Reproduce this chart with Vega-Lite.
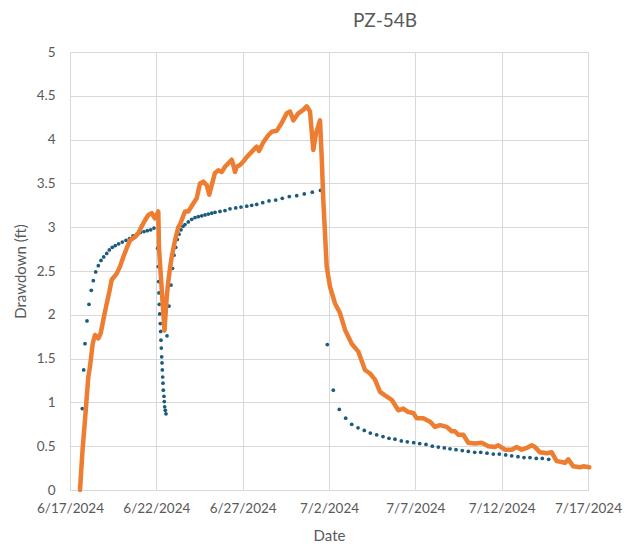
{
  "$schema": "https://vega.github.io/schema/vega-lite/v6.json",
  "width": 518,
  "height": 438,
  "autosize": {"type": "none"},
  "padding": {"left": 70, "top": 52, "right": 50, "bottom": 59},
  "background": "white",
  "title": {
    "text": "PZ-54B",
    "font": "Lato",
    "fontSize": 19,
    "fontWeight": "normal",
    "color": "#595959",
    "anchor": "middle",
    "dx": 56,
    "offset": 14
  },
  "config": {
    "view": {"stroke": null},
    "axis": {
      "labelFont": "Lato",
      "titleFont": "Lato",
      "labelColor": "#595959",
      "titleColor": "#595959",
      "labelFontSize": 13.5,
      "titleFontSize": 15,
      "titleFontWeight": "normal",
      "gridColor": "#d9d9d9",
      "gridWidth": 1,
      "ticks": false
    }
  },
  "datasets": {
    "model": [
      {"t": "2024-06-17T17:05", "v": 0.93},
      {"t": "2024-06-17T19:02", "v": 1.37},
      {"t": "2024-06-17T20:51", "v": 1.67},
      {"t": "2024-06-17T23:38", "v": 1.93},
      {"t": "2024-06-18T02:24", "v": 2.12},
      {"t": "2024-06-18T05:37", "v": 2.28},
      {"t": "2024-06-18T08:23", "v": 2.39},
      {"t": "2024-06-18T11:43", "v": 2.49},
      {"t": "2024-06-18T15:20", "v": 2.56},
      {"t": "2024-06-18T19:05", "v": 2.62},
      {"t": "2024-06-18T22:51", "v": 2.66},
      {"t": "2024-06-19T03:00", "v": 2.70},
      {"t": "2024-06-19T06:37", "v": 2.74},
      {"t": "2024-06-19T10:48", "v": 2.77},
      {"t": "2024-06-19T14:58", "v": 2.79},
      {"t": "2024-06-19T19:41", "v": 2.81},
      {"t": "2024-06-20T00:41", "v": 2.83},
      {"t": "2024-06-20T05:50", "v": 2.85},
      {"t": "2024-06-20T10:42", "v": 2.87},
      {"t": "2024-06-20T15:34", "v": 2.90},
      {"t": "2024-06-20T21:07", "v": 2.92},
      {"t": "2024-06-21T02:00", "v": 2.94},
      {"t": "2024-06-21T06:52", "v": 2.95},
      {"t": "2024-06-21T11:30", "v": 2.96},
      {"t": "2024-06-21T16:10", "v": 2.97},
      {"t": "2024-06-21T20:46", "v": 2.99},
      {"t": "2024-06-22T01:54", "v": 2.76},
      {"t": "2024-06-22T02:44", "v": 2.55},
      {"t": "2024-06-22T03:17", "v": 2.38},
      {"t": "2024-06-22T03:42", "v": 2.25},
      {"t": "2024-06-22T04:07", "v": 2.12},
      {"t": "2024-06-22T04:41", "v": 2.01},
      {"t": "2024-06-22T05:31", "v": 1.90},
      {"t": "2024-06-22T06:04", "v": 1.81},
      {"t": "2024-06-22T06:29", "v": 1.71},
      {"t": "2024-06-22T06:54", "v": 1.62},
      {"t": "2024-06-22T07:28", "v": 1.52},
      {"t": "2024-06-22T07:52", "v": 1.45},
      {"t": "2024-06-22T08:18", "v": 1.37},
      {"t": "2024-06-22T08:51", "v": 1.29},
      {"t": "2024-06-22T09:16", "v": 1.22},
      {"t": "2024-06-22T09:40", "v": 1.14},
      {"t": "2024-06-22T10:39", "v": 1.07},
      {"t": "2024-06-22T11:04", "v": 1.01},
      {"t": "2024-06-22T11:37", "v": 0.95},
      {"t": "2024-06-22T12:27", "v": 0.91},
      {"t": "2024-06-22T13:26", "v": 0.87},
      {"t": "2024-06-22T14:50", "v": 1.76},
      {"t": "2024-06-22T17:37", "v": 2.10},
      {"t": "2024-06-22T20:24", "v": 2.34},
      {"t": "2024-06-22T22:28", "v": 2.53},
      {"t": "2024-06-23T00:33", "v": 2.68},
      {"t": "2024-06-23T02:55", "v": 2.77},
      {"t": "2024-06-23T05:08", "v": 2.86},
      {"t": "2024-06-23T07:30", "v": 2.92},
      {"t": "2024-06-23T10:17", "v": 2.97},
      {"t": "2024-06-23T13:03", "v": 3.01},
      {"t": "2024-06-23T15:50", "v": 3.03},
      {"t": "2024-06-23T20:25", "v": 3.06},
      {"t": "2024-06-24T01:09", "v": 3.09},
      {"t": "2024-06-24T05:44", "v": 3.11},
      {"t": "2024-06-24T10:19", "v": 3.12},
      {"t": "2024-06-24T15:03", "v": 3.13},
      {"t": "2024-06-24T19:38", "v": 3.14},
      {"t": "2024-06-25T00:14", "v": 3.15},
      {"t": "2024-06-25T04:57", "v": 3.16},
      {"t": "2024-06-25T09:33", "v": 3.17},
      {"t": "2024-06-25T16:29", "v": 3.18},
      {"t": "2024-06-25T23:27", "v": 3.19},
      {"t": "2024-06-26T06:23", "v": 3.21},
      {"t": "2024-06-26T14:18", "v": 3.22},
      {"t": "2024-06-26T21:40", "v": 3.23},
      {"t": "2024-06-27T05:37", "v": 3.24},
      {"t": "2024-06-27T12:33", "v": 3.25},
      {"t": "2024-06-27T19:31", "v": 3.26},
      {"t": "2024-06-28T03:50", "v": 3.28},
      {"t": "2024-06-28T12:36", "v": 3.30},
      {"t": "2024-06-28T21:55", "v": 3.31},
      {"t": "2024-06-29T07:05", "v": 3.33},
      {"t": "2024-06-29T16:50", "v": 3.35},
      {"t": "2024-06-30T03:06", "v": 3.36},
      {"t": "2024-06-30T13:39", "v": 3.38},
      {"t": "2024-07-01T00:47", "v": 3.40},
      {"t": "2024-07-01T12:11", "v": 3.42},
      {"t": "2024-07-01T21:37", "v": 1.66},
      {"t": "2024-07-02T05:59", "v": 1.14},
      {"t": "2024-07-02T14:20", "v": 0.92},
      {"t": "2024-07-02T23:12", "v": 0.82},
      {"t": "2024-07-03T07:34", "v": 0.75},
      {"t": "2024-07-03T16:19", "v": 0.71},
      {"t": "2024-07-04T01:03", "v": 0.68},
      {"t": "2024-07-04T09:24", "v": 0.65},
      {"t": "2024-07-04T18:17", "v": 0.63},
      {"t": "2024-07-05T03:03", "v": 0.61},
      {"t": "2024-07-05T11:23", "v": 0.59},
      {"t": "2024-07-05T19:44", "v": 0.58},
      {"t": "2024-07-06T04:29", "v": 0.56},
      {"t": "2024-07-06T12:50", "v": 0.55},
      {"t": "2024-07-06T21:43", "v": 0.54},
      {"t": "2024-07-07T06:04", "v": 0.53},
      {"t": "2024-07-07T14:50", "v": 0.52},
      {"t": "2024-07-07T23:35", "v": 0.50},
      {"t": "2024-07-08T07:55", "v": 0.49},
      {"t": "2024-07-08T16:16", "v": 0.48},
      {"t": "2024-07-09T00:11", "v": 0.47},
      {"t": "2024-07-09T08:31", "v": 0.46},
      {"t": "2024-07-09T17:17", "v": 0.45},
      {"t": "2024-07-10T01:38", "v": 0.44},
      {"t": "2024-07-10T10:31", "v": 0.43},
      {"t": "2024-07-10T18:52", "v": 0.43},
      {"t": "2024-07-11T03:37", "v": 0.42},
      {"t": "2024-07-11T12:22", "v": 0.41},
      {"t": "2024-07-11T20:43", "v": 0.41},
      {"t": "2024-07-12T05:37", "v": 0.40},
      {"t": "2024-07-12T13:57", "v": 0.39},
      {"t": "2024-07-12T22:42", "v": 0.38},
      {"t": "2024-07-13T07:02", "v": 0.37},
      {"t": "2024-07-13T15:23", "v": 0.37},
      {"t": "2024-07-14T00:09", "v": 0.36},
      {"t": "2024-07-14T08:28", "v": 0.36},
      {"t": "2024-07-14T17:22", "v": 0.35}
    ],
    "observed": [
      {"t": "2024-06-17T13:54", "v": 0.00},
      {"t": "2024-06-17T17:22", "v": 0.45},
      {"t": "2024-06-17T20:51", "v": 0.80},
      {"t": "2024-06-18T01:26", "v": 1.29},
      {"t": "2024-06-18T03:48", "v": 1.41},
      {"t": "2024-06-18T07:33", "v": 1.67},
      {"t": "2024-06-18T10:45", "v": 1.77},
      {"t": "2024-06-18T15:20", "v": 1.73},
      {"t": "2024-06-18T18:40", "v": 1.79},
      {"t": "2024-06-18T22:17", "v": 1.94},
      {"t": "2024-06-19T02:02", "v": 2.09},
      {"t": "2024-06-19T06:37", "v": 2.26},
      {"t": "2024-06-19T09:58", "v": 2.40},
      {"t": "2024-06-19T16:55", "v": 2.47},
      {"t": "2024-06-19T21:30", "v": 2.55},
      {"t": "2024-06-20T02:05", "v": 2.66},
      {"t": "2024-06-20T06:49", "v": 2.76},
      {"t": "2024-06-20T11:24", "v": 2.85},
      {"t": "2024-06-20T18:20", "v": 2.89},
      {"t": "2024-06-20T22:56", "v": 2.93},
      {"t": "2024-06-21T03:40", "v": 3.01},
      {"t": "2024-06-21T08:15", "v": 3.08},
      {"t": "2024-06-21T12:50", "v": 3.14},
      {"t": "2024-06-21T17:34", "v": 3.16},
      {"t": "2024-06-21T22:09", "v": 3.10},
      {"t": "2024-06-22T02:44", "v": 3.18},
      {"t": "2024-06-22T03:42", "v": 2.76},
      {"t": "2024-06-22T08:18", "v": 2.19},
      {"t": "2024-06-22T11:21", "v": 1.82},
      {"t": "2024-06-22T14:24", "v": 2.20},
      {"t": "2024-06-22T16:38", "v": 2.38},
      {"t": "2024-06-22T18:59", "v": 2.53},
      {"t": "2024-06-22T21:21", "v": 2.66},
      {"t": "2024-06-23T01:56", "v": 2.85},
      {"t": "2024-06-23T06:31", "v": 3.00},
      {"t": "2024-06-23T08:54", "v": 3.03},
      {"t": "2024-06-23T15:50", "v": 3.18},
      {"t": "2024-06-23T20:25", "v": 3.18},
      {"t": "2024-06-24T03:22", "v": 3.27},
      {"t": "2024-06-24T08:06", "v": 3.33},
      {"t": "2024-06-24T12:41", "v": 3.50},
      {"t": "2024-06-24T17:17", "v": 3.52},
      {"t": "2024-06-24T22:00", "v": 3.48},
      {"t": "2024-06-25T01:36", "v": 3.37},
      {"t": "2024-06-25T04:57", "v": 3.48},
      {"t": "2024-06-25T09:33", "v": 3.62},
      {"t": "2024-06-25T14:08", "v": 3.65},
      {"t": "2024-06-25T18:52", "v": 3.63},
      {"t": "2024-06-25T23:27", "v": 3.69},
      {"t": "2024-06-26T04:02", "v": 3.73},
      {"t": "2024-06-26T08:46", "v": 3.77},
      {"t": "2024-06-26T11:00", "v": 3.71},
      {"t": "2024-06-26T13:21", "v": 3.63},
      {"t": "2024-06-26T15:42", "v": 3.69},
      {"t": "2024-06-26T20:18", "v": 3.71},
      {"t": "2024-06-27T00:53", "v": 3.75},
      {"t": "2024-06-27T05:37", "v": 3.80},
      {"t": "2024-06-27T10:12", "v": 3.84},
      {"t": "2024-06-27T14:47", "v": 3.88},
      {"t": "2024-06-27T19:31", "v": 3.92},
      {"t": "2024-06-27T22:42", "v": 3.87},
      {"t": "2024-06-28T04:41", "v": 3.97},
      {"t": "2024-06-28T11:38", "v": 4.05},
      {"t": "2024-06-28T16:21", "v": 4.09},
      {"t": "2024-06-28T23:18", "v": 4.10},
      {"t": "2024-06-29T06:14", "v": 4.19},
      {"t": "2024-06-29T13:12", "v": 4.30},
      {"t": "2024-06-29T17:47", "v": 4.32},
      {"t": "2024-06-29T22:22", "v": 4.22},
      {"t": "2024-06-30T05:19", "v": 4.30},
      {"t": "2024-06-30T12:16", "v": 4.34},
      {"t": "2024-06-30T16:59", "v": 4.38},
      {"t": "2024-06-30T21:36", "v": 4.32},
      {"t": "2024-07-01T02:11", "v": 3.88},
      {"t": "2024-07-01T05:56", "v": 4.07},
      {"t": "2024-07-01T11:29", "v": 4.22},
      {"t": "2024-07-01T13:51", "v": 3.80},
      {"t": "2024-07-01T16:05", "v": 3.31},
      {"t": "2024-07-01T18:26", "v": 2.93},
      {"t": "2024-07-01T20:48", "v": 2.55},
      {"t": "2024-07-02T01:23", "v": 2.32},
      {"t": "2024-07-02T08:20", "v": 2.13},
      {"t": "2024-07-02T15:17", "v": 2.02},
      {"t": "2024-07-02T22:14", "v": 1.83},
      {"t": "2024-07-03T07:34", "v": 1.67},
      {"t": "2024-07-03T16:44", "v": 1.58},
      {"t": "2024-07-04T02:02", "v": 1.37},
      {"t": "2024-07-04T09:00", "v": 1.33},
      {"t": "2024-07-04T15:56", "v": 1.26},
      {"t": "2024-07-04T22:54", "v": 1.12},
      {"t": "2024-07-05T05:50", "v": 1.08},
      {"t": "2024-07-05T15:09", "v": 1.03},
      {"t": "2024-07-06T00:20", "v": 0.91},
      {"t": "2024-07-06T07:16", "v": 0.93},
      {"t": "2024-07-06T14:14", "v": 0.89},
      {"t": "2024-07-06T21:10", "v": 0.88},
      {"t": "2024-07-07T01:54", "v": 0.82},
      {"t": "2024-07-07T11:04", "v": 0.82},
      {"t": "2024-07-07T20:23", "v": 0.78},
      {"t": "2024-07-08T03:20", "v": 0.72},
      {"t": "2024-07-08T10:18", "v": 0.74},
      {"t": "2024-07-08T19:36", "v": 0.72},
      {"t": "2024-07-09T02:33", "v": 0.67},
      {"t": "2024-07-09T07:08", "v": 0.67},
      {"t": "2024-07-09T11:43", "v": 0.63},
      {"t": "2024-07-09T18:40", "v": 0.63},
      {"t": "2024-07-10T01:38", "v": 0.54},
      {"t": "2024-07-10T10:57", "v": 0.53},
      {"t": "2024-07-10T20:15", "v": 0.54},
      {"t": "2024-07-11T05:25", "v": 0.50},
      {"t": "2024-07-11T14:44", "v": 0.49},
      {"t": "2024-07-11T19:19", "v": 0.51},
      {"t": "2024-07-12T04:38", "v": 0.46},
      {"t": "2024-07-12T13:57", "v": 0.46},
      {"t": "2024-07-12T20:53", "v": 0.49},
      {"t": "2024-07-13T03:50", "v": 0.46},
      {"t": "2024-07-13T10:48", "v": 0.48},
      {"t": "2024-07-13T17:44", "v": 0.51},
      {"t": "2024-07-13T22:20", "v": 0.49},
      {"t": "2024-07-14T05:17", "v": 0.43},
      {"t": "2024-07-14T14:35", "v": 0.42},
      {"t": "2024-07-14T21:33", "v": 0.43},
      {"t": "2024-07-15T04:29", "v": 0.33},
      {"t": "2024-07-15T11:27", "v": 0.32},
      {"t": "2024-07-15T16:02", "v": 0.31},
      {"t": "2024-07-15T20:37", "v": 0.35},
      {"t": "2024-07-16T03:34", "v": 0.27},
      {"t": "2024-07-16T12:53", "v": 0.26},
      {"t": "2024-07-16T17:28", "v": 0.27},
      {"t": "2024-07-17T01:48", "v": 0.26}
    ]
  },
  "encoding": {
    "x": {
      "field": "t",
      "type": "temporal",
      "title": "Date",
      "scale": {
        "domain": [
          {"year": 2024, "month": 6, "date": 17},
          {"year": 2024, "month": 7, "date": 17}
        ],
        "nice": false
      },
      "axis": {
        "values": [
          {"year": 2024, "month": 6, "date": 17},
          {"year": 2024, "month": 6, "date": 22},
          {"year": 2024, "month": 6, "date": 27},
          {"year": 2024, "month": 7, "date": 2},
          {"year": 2024, "month": 7, "date": 7},
          {"year": 2024, "month": 7, "date": 12},
          {"year": 2024, "month": 7, "date": 17}
        ],
        "format": "%-m/%-d/%Y",
        "labelFlush": false,
        "labelOverlap": false,
        "labelPadding": 11,
        "titlePadding": 14,
        "domain": true,
        "domainColor": "#d9d9d9",
        "grid": true
      }
    },
    "y": {
      "field": "v",
      "type": "quantitative",
      "title": "Drawdown (ft)",
      "scale": {"domain": [0, 5], "nice": false},
      "axis": {
        "values": [0, 0.5, 1, 1.5, 2, 2.5, 3, 3.5, 4, 4.5, 5],
        "format": "~g",
        "labelPadding": 15,
        "titlePadding": 8,
        "domain": false,
        "grid": true
      }
    }
  },
  "layer": [
    {
      "data": {"name": "model"},
      "mark": {"type": "circle", "size": 14, "color": "#1c5b7d", "opacity": 1}
    },
    {
      "data": {"name": "observed"},
      "mark": {
        "type": "line",
        "color": "#ED7D31",
        "strokeWidth": 4.5,
        "strokeJoin": "round",
        "strokeCap": "round",
        "clip": false
      }
    }
  ]
}
